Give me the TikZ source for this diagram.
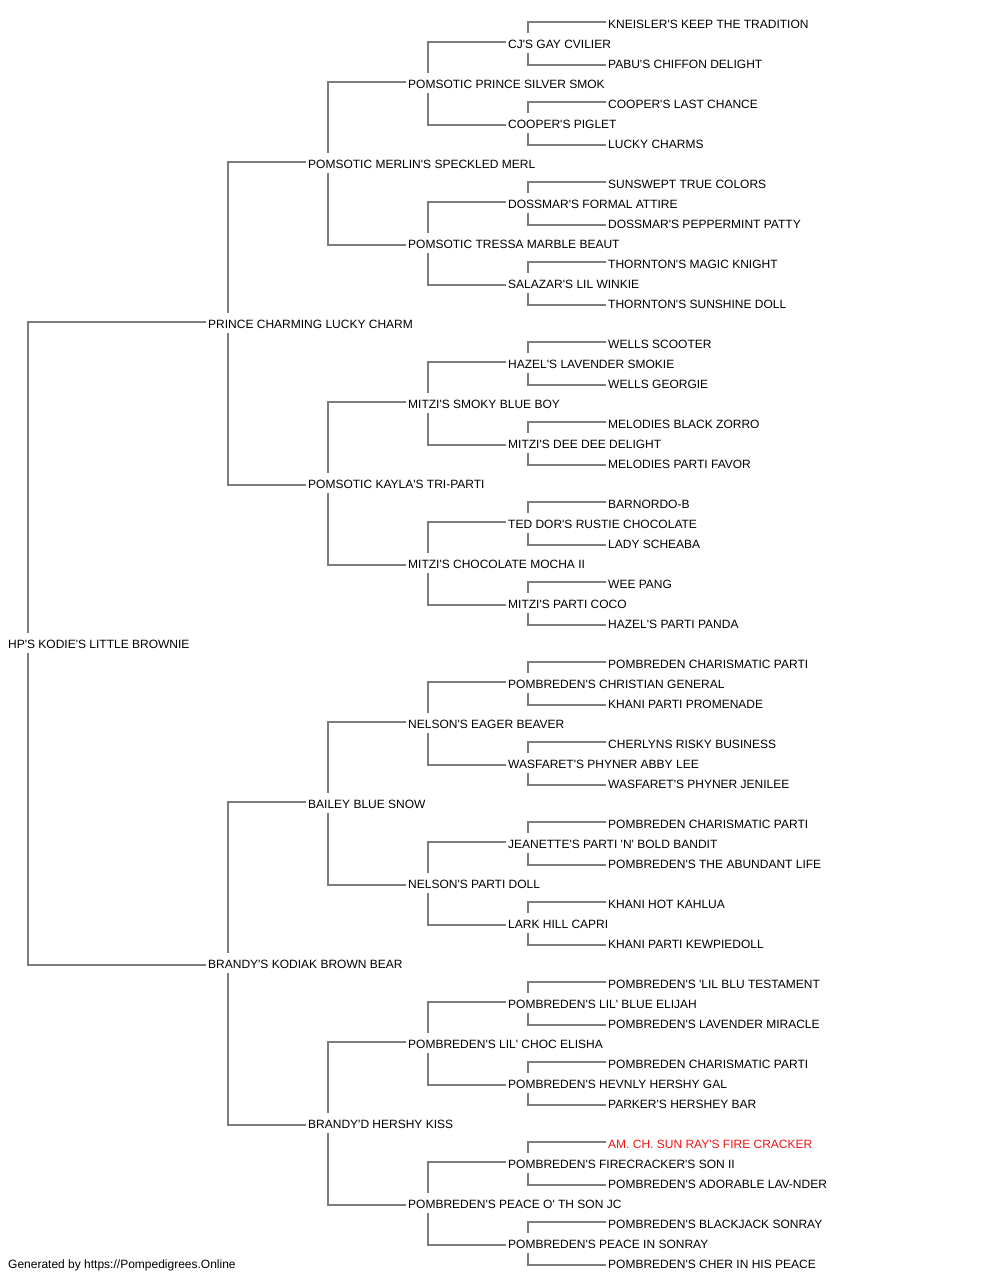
\documentclass[tikz,border=0pt]{standalone}
\usepackage{fontspec}
\setmainfont{Liberation Sans}[Ligatures=TeXOff]
\usetikzlibrary{backgrounds}
\definecolor{lncol}{RGB}{125,125,125}
\definecolor{redtxt}{RGB}{240,20,20}
\tikzset{
  nm/.style={anchor=base west, fill=white, inner xsep=2pt, inner ysep=0pt,
    text height=15pt, text depth=5pt, font=\fontsize{12}{14}\selectfont, text=black},
  conn/.style={draw=lncol, line width=2pt},
}
\newcommand\pedlink[3]{\draw[conn] ([yshift=1.3pt]#2.west) -| ([xshift=22pt]#1.west) |- ([yshift=-1.7pt]#3.west);}
\begin{document}
\begin{tikzpicture}[x=1pt,y=-1pt]
\useasboundingbox (0,0) rectangle (1000,1280);
% generation 0
\node[nm] (r31) at (6,648.3) {HP'S KODIE'S LITTLE BROWNIE};
% generation 1
\node[nm] (r15) at (206,328.3) {PRINCE CHARMING LUCKY CHARM};
\node[nm] (r47) at (206,968.3) {BRANDY'S KODIAK BROWN BEAR};
% generation 2
\node[nm] (r7) at (306,168.3) {POMSOTIC MERLIN'S SPECKLED MERL};
\node[nm] (r23) at (306,488.3) {POMSOTIC KAYLA'S TRI-PARTI};
\node[nm] (r39) at (306,808.3) {BAILEY BLUE SNOW};
\node[nm] (r55) at (306,1128.3) {BRANDY'D HERSHY KISS};
% generation 3
\node[nm] (r3) at (406,88.3) {POMSOTIC PRINCE SILVER SMOK};
\node[nm] (r11) at (406,248.3) {POMSOTIC TRESSA MARBLE BEAUT};
\node[nm] (r19) at (406,408.3) {MITZI'S SMOKY BLUE BOY};
\node[nm] (r27) at (406,568.3) {MITZI'S CHOCOLATE MOCHA II};
\node[nm] (r35) at (406,728.3) {NELSON'S EAGER BEAVER};
\node[nm] (r43) at (406,888.3) {NELSON'S PARTI DOLL};
\node[nm] (r51) at (406,1048.3) {POMBREDEN'S LIL' CHOC ELISHA};
\node[nm] (r59) at (406,1208.3) {POMBREDEN'S PEACE O' TH SON JC};
% generation 4
\node[nm] (r1) at (506,48.3) {CJ'S GAY CVILIER};
\node[nm] (r5) at (506,128.3) {COOPER'S PIGLET};
\node[nm] (r9) at (506,208.3) {DOSSMAR'S FORMAL ATTIRE};
\node[nm] (r13) at (506,288.3) {SALAZAR'S LIL WINKIE};
\node[nm] (r17) at (506,368.3) {HAZEL'S LAVENDER SMOKIE};
\node[nm] (r21) at (506,448.3) {MITZI'S DEE DEE DELIGHT};
\node[nm] (r25) at (506,528.3) {TED DOR'S RUSTIE CHOCOLATE};
\node[nm] (r29) at (506,608.3) {MITZI'S PARTI COCO};
\node[nm] (r33) at (506,688.3) {POMBREDEN'S CHRISTIAN GENERAL};
\node[nm] (r37) at (506,768.3) {WASFARET'S PHYNER ABBY LEE};
\node[nm] (r41) at (506,848.3) {JEANETTE'S PARTI 'N' BOLD BANDIT};
\node[nm] (r45) at (506,928.3) {LARK HILL CAPRI};
\node[nm] (r49) at (506,1008.3) {POMBREDEN'S LIL' BLUE ELIJAH};
\node[nm] (r53) at (506,1088.3) {POMBREDEN'S HEVNLY HERSHY GAL};
\node[nm] (r57) at (506,1168.3) {POMBREDEN'S FIRECRACKER'S SON II};
\node[nm] (r61) at (506,1248.3) {POMBREDEN'S PEACE IN SONRAY};
% generation 5
\node[nm] (r0) at (606,28.3) {KNEISLER'S KEEP THE TRADITION};
\node[nm] (r2) at (606,68.3) {PABU'S CHIFFON DELIGHT};
\node[nm] (r4) at (606,108.3) {COOPER'S LAST CHANCE};
\node[nm] (r6) at (606,148.3) {LUCKY CHARMS};
\node[nm] (r8) at (606,188.3) {SUNSWEPT TRUE COLORS};
\node[nm] (r10) at (606,228.3) {DOSSMAR'S PEPPERMINT PATTY};
\node[nm] (r12) at (606,268.3) {THORNTON'S MAGIC KNIGHT};
\node[nm] (r14) at (606,308.3) {THORNTON'S SUNSHINE DOLL};
\node[nm] (r16) at (606,348.3) {WELLS SCOOTER};
\node[nm] (r18) at (606,388.3) {WELLS GEORGIE};
\node[nm] (r20) at (606,428.3) {MELODIES BLACK ZORRO};
\node[nm] (r22) at (606,468.3) {MELODIES PARTI FAVOR};
\node[nm] (r24) at (606,508.3) {BARNORDO-B};
\node[nm] (r26) at (606,548.3) {LADY SCHEABA};
\node[nm] (r28) at (606,588.3) {WEE PANG};
\node[nm] (r30) at (606,628.3) {HAZEL'S PARTI PANDA};
\node[nm] (r32) at (606,668.3) {POMBREDEN CHARISMATIC PARTI};
\node[nm] (r34) at (606,708.3) {KHANI PARTI PROMENADE};
\node[nm] (r36) at (606,748.3) {CHERLYNS RISKY BUSINESS};
\node[nm] (r38) at (606,788.3) {WASFARET'S PHYNER JENILEE};
\node[nm] (r40) at (606,828.3) {POMBREDEN CHARISMATIC PARTI};
\node[nm] (r42) at (606,868.3) {POMBREDEN'S THE ABUNDANT LIFE};
\node[nm] (r44) at (606,908.3) {KHANI HOT KAHLUA};
\node[nm] (r46) at (606,948.3) {KHANI PARTI KEWPIEDOLL};
\node[nm] (r48) at (606,988.3) {POMBREDEN'S 'LIL BLU TESTAMENT};
\node[nm] (r50) at (606,1028.3) {POMBREDEN'S LAVENDER MIRACLE};
\node[nm] (r52) at (606,1068.3) {POMBREDEN CHARISMATIC PARTI};
\node[nm] (r54) at (606,1108.3) {PARKER'S HERSHEY BAR};
\node[nm, text=redtxt] (r56) at (606,1148.3) {AM. CH. SUN RAY'S FIRE CRACKER};
\node[nm] (r58) at (606,1188.3) {POMBREDEN'S ADORABLE LAV-NDER};
\node[nm] (r60) at (606,1228.3) {POMBREDEN'S BLACKJACK SONRAY};
\node[nm] (r62) at (606,1268.3) {POMBREDEN'S CHER IN HIS PEACE};
% footer
\node[nm] (footer) at (6,1268.3) {Generated by https://Pompedigrees.Online};
% connectors
\begin{scope}[on background layer]
\foreach \p in {1,5,...,61} {
  \pgfmathtruncatemacro\ca{\p-1}
  \pgfmathtruncatemacro\cb{\p+1}
  \pedlink{r\p}{r\ca}{r\cb}
}
\foreach \p in {3,11,...,59} {
  \pgfmathtruncatemacro\ca{\p-2}
  \pgfmathtruncatemacro\cb{\p+2}
  \pedlink{r\p}{r\ca}{r\cb}
}
\foreach \p in {7,23,39,55} {
  \pgfmathtruncatemacro\ca{\p-4}
  \pgfmathtruncatemacro\cb{\p+4}
  \pedlink{r\p}{r\ca}{r\cb}
}
\pedlink{r15}{r7}{r23}
\pedlink{r47}{r39}{r55}
\pedlink{r31}{r15}{r47}
\end{scope}
\end{tikzpicture}
\end{document}
